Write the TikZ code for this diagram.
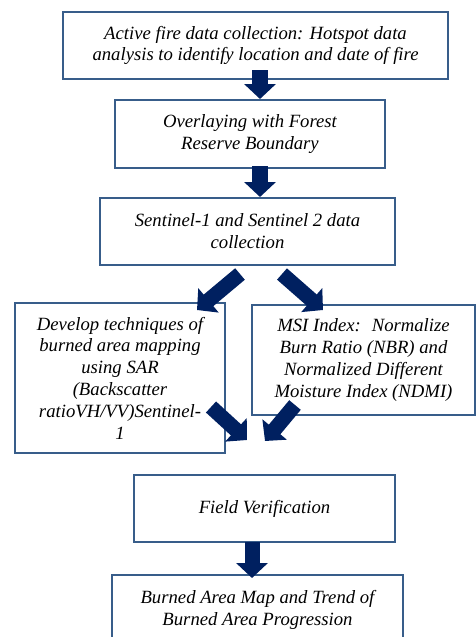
\documentclass[tikz,border=0pt]{standalone}
\usepackage{fontspec}
\setmainfont{Liberation Serif}
\usetikzlibrary{arrows.meta}
\definecolor{boxline}{HTML}{385D8A}
\definecolor{navy}{HTML}{002060}
\begin{document}
\begin{tikzpicture}[x=1pt,y=-1pt,
  box/.style={draw=boxline, line width=2pt, fill=white, inner sep=0pt, align=center,
    font=\fontsize{18.7}{21.8}\selectfont\itshape},
  blockarrow/.style={draw=navy, line width=16pt, -{Triangle[width=31pt,length=15pt]}}]
\useasboundingbox (0,0) rectangle (476,637);
\clip (0,0) rectangle (476,637);
\node[box, minimum width=385pt, minimum height=67pt] (b1) at (255.5,45.5)
  {Active fire data collection: Hotspot data\\analysis to identify location and date of fire};
\node[box, minimum width=270pt, minimum height=68pt] (b2) at (250,134)
  {Overlaying with Forest\\Reserve Boundary};
\node[box, minimum width=295pt, minimum height=67pt] (b3) at (247.5,231.5)
  {Sentinel-1 and Sentinel 2 data\\collection};
\node[box, minimum width=210pt, minimum height=150pt] (b4) at (120,378)
  {Develop techniques of\\burned area mapping\\using SAR\\(Backscatter\\ratioVH/VV)Sentinel-\\1};
\node[box, minimum width=223pt, minimum height=110pt] (b5) at (363.5,360)
  {MSI Index:~ Normalize\\Burn Ratio (NBR) and\\Normalized Different\\Moisture Index (NDMI)};
\node[box, minimum width=261pt, minimum height=67pt] (b6) at (264.5,508.5)
  {Field Verification};
\node[box, minimum width=291pt, minimum height=70pt] (b7) at (257.5,610)
  {Burned Area Map and Trend of\\Burned Area Progression};
\coordinate (m1) at (247,440);
\coordinate (m2) at (265,441);
\draw[blockarrow] ([xshift=4.5pt,yshift=10pt]b1.south) -- ([xshift=10pt]b2.north);
\draw[blockarrow] ([xshift=10pt,yshift=3pt]b2.south) -- ([xshift=12.5pt]b3.north);
\draw[blockarrow, line width=15pt] ([xshift=-7.5pt,yshift=-8pt]b3.south) -- ([xshift=-29pt,yshift=-8pt]b4.north east);
\draw[blockarrow, line width=15pt] ([xshift=34.5pt,yshift=-8pt]b3.south) -- ([xshift=72pt,yshift=-6pt]b5.north west);
\draw[blockarrow, line width=15pt] ([xshift=-15pt,yshift=-29pt]b4.east) -- (m1);
\draw[blockarrow, line width=15pt] ([xshift=44pt,yshift=11pt]b5.south west) -- (m2);
\draw[blockarrow, line width=15pt] ([xshift=-12.5pt,yshift=1pt]b6.south) -- ([xshift=-5.5pt,yshift=-4pt]b7.north);
\end{tikzpicture}
\end{document}
